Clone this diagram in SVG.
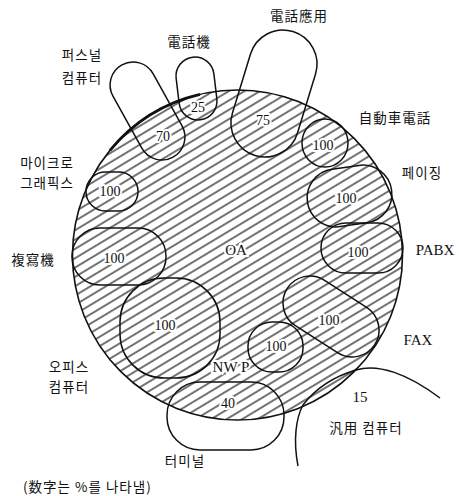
<svg xmlns="http://www.w3.org/2000/svg" width="459" height="496" viewBox="0 0 459 496">
<style>
.shape{fill:none;stroke:#111;stroke-width:1.5}
.num{font-family:"Liberation Serif",serif;font-size:14px;fill:#111;text-anchor:middle;stroke:#fff;stroke-width:4;paint-order:stroke fill;stroke-linejoin:round}
.lbl{font-family:"Noto Sans CJK KR","Noto Sans CJK SC",sans-serif;font-size:13.5px;fill:#111;letter-spacing:1px;text-anchor:middle}
.lat{font-family:"Liberation Serif",serif;font-size:15px;fill:#111;text-anchor:middle}
</style>
<defs>
<pattern id="hatch" patternUnits="userSpaceOnUse" width="20" height="8" patternTransform="rotate(-31)">
<line x1="0" y1="4" x2="20" y2="4" stroke="#000" stroke-width="1.1"/>
</pattern>
</defs>
<rect width="459" height="496" fill="#fff"/>
<g id="OA">
<circle cx="237.5" cy="255" r="165" fill="url(#hatch)" stroke="#111" stroke-width="1.6"/>
<path d="M110,150.3 A165,165 0 0 1 200,94.3" fill="none" stroke="#111" stroke-width="2.8"/>
<text class="lat" x="236" y="255" style="stroke:#fff;stroke-width:4;paint-order:stroke fill">OA</text>
</g>
<g id="connectors">
<path class="shape" d="M298,466 C293,440 296,418 303,405 Q322,380 356,370 C378,363 408,374 440,398"/>
</g>
<g id="personal-computer">
<rect class="shape" x="-23" y="-52.75" width="46" height="105.5" rx="23" transform="translate(147.5,111) rotate(-29)"/>
<text class="num" x="163" y="141">70</text>
<text class="lbl" x="82" y="60">퍼스널</text>
<text class="lbl" x="82" y="83">컴퓨터</text>
</g>
<g id="telephone">
<rect class="shape" x="-19" y="-31.5" width="38" height="63" rx="19" transform="translate(196.5,88.5) rotate(-6.8)"/>
<text class="num" x="198" y="112">25</text>
<text class="lbl" x="189" y="47">電話機</text>
</g>
<g id="telephone-app">
<rect class="shape" x="-34" y="-64.85" width="68" height="129.7" rx="34" transform="translate(274,93.5) rotate(17)"/>
<text class="num" x="263" y="125">75</text>
<text class="lbl" x="299" y="21">電話應用</text>
</g>
<g id="car-phone">
<ellipse class="shape" cx="325" cy="143" rx="23" ry="24"/>
<text class="num" x="323" y="150">100</text>
<text class="lbl" x="395" y="123">自動車電話</text>
</g>
<g id="paging">
<rect class="shape" x="-42.5" y="-29" width="85" height="58" rx="29" transform="translate(349.5,196) rotate(-8)"/>
<text class="num" x="346" y="203">100</text>
<text class="lbl" x="422" y="178">페이징</text>
</g>
<g id="pabx">
<rect class="shape" x="321" y="223" width="82" height="50" rx="25"/>
<text class="num" x="358" y="257">100</text>
<text class="lat" x="435" y="255">PABX</text>
</g>
<g id="fax">
<rect class="shape" x="-52" y="-27" width="104" height="54" rx="27" transform="translate(331,316.5) rotate(32.7)"/>
<text class="num" x="329" y="325">100</text>
<text class="lat" x="418" y="345">FAX</text>
</g>
<g id="nwp">
<rect class="shape" x="248" y="322" width="55" height="50" rx="24"/>
<text class="num" x="276" y="351">100</text>
<text class="lat" x="231" y="372" style="stroke:#fff;stroke-width:4;paint-order:stroke fill">NW P</text>
</g>
<g id="terminal">
<rect class="shape" x="167" y="382" width="117" height="68" rx="33"/>
<text class="num" x="228" y="408">40</text>
<text class="lbl" x="185" y="466">터미널</text>
</g>
<g id="office-computer">
<rect class="shape" x="120" y="278" width="100" height="100" rx="44"/>
<text class="num" x="165" y="330">100</text>
<text class="lbl" x="69" y="372">오피스</text>
<text class="lbl" x="69" y="392">컴퓨터</text>
</g>
<g id="copier">
<rect class="shape" x="72" y="228" width="94" height="57" rx="28"/>
<text class="num" x="114" y="263">100</text>
<text class="lbl" x="33" y="265">複寫機</text>
</g>
<g id="micrographics">
<rect class="shape" x="86" y="172" width="52" height="39" rx="19.5"/>
<text class="num" x="110" y="196">100</text>
<text class="lbl" x="47" y="168">마이크로</text>
<text class="lbl" x="47" y="188">그래픽스</text>
</g>
<g id="general-computer">
<text class="lat" x="360" y="402">15</text>
<text class="lbl" x="366" y="433">汎用 컴퓨터</text>
</g>
<text class="lbl" x="23" y="492" style="text-anchor:start;letter-spacing:1px">(数字는 %를 나타냄)</text>
</svg>
